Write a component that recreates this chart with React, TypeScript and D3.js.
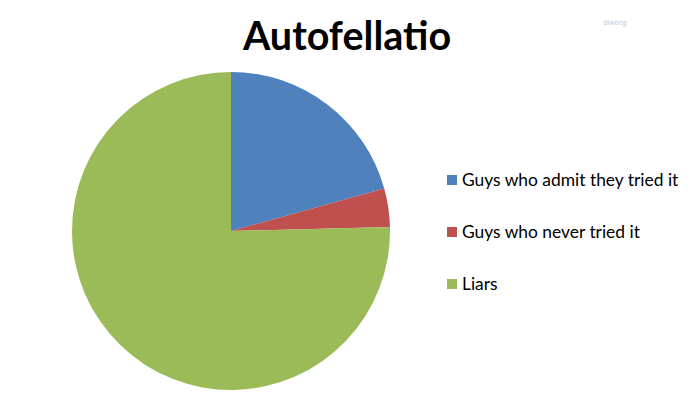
import { useEffect, useRef } from "react";
import * as d3 from "d3";

const categories = [
  "Guys who admit they tried it",
  "Guys who never tried it",
  "Liars",
];
const values = [20.7, 3.9, 75.4];
const colors = ["#4F81BD", "#C0504D", "#9BBB59"];

export default function App() {
  const width = 700;
  const height = 402;
  const svgRef = useRef<SVGSVGElement>(null);

  useEffect(() => {
    document.body.style.margin = "0";
    const svg = d3.select(svgRef.current);
    svg.selectAll("*").remove();

    svg.append("rect").attr("width", width).attr("height", height).attr("fill", "#fff");

    // title
    svg
      .append("text")
      .attr("x", 347)
      .attr("y", 50)
      .attr("text-anchor", "middle")
      .style("font-family", "Lato, 'Open Sans', sans-serif")
      .style("font-weight", "bold")
      .style("font-size", "39.5px")
      .attr("fill", "#000")
      .text("Autofellatio");

    // watermark
    svg
      .append("text")
      .attr("x", 615)
      .attr("y", 25)
      .attr("text-anchor", "middle")
      .style("font-family", "'Open Sans', sans-serif")
      .style("font-size", "7px")
      .attr("fill", "#c8c8c8")
      .text("diwoog");

    // pie
    const data = categories.map((c, i) => ({ name: c, value: values[i], color: colors[i] }));
    const pie = d3
      .pie<{ name: string; value: number; color: string }>()
      .sort(null)
      .value((d) => d.value);
    const arc = d3
      .arc<d3.PieArcDatum<{ name: string; value: number; color: string }>>()
      .innerRadius(0)
      .outerRadius(159);

    svg
      .append("g")
      .attr("transform", "translate(231, 231)")
      .selectAll("path")
      .data(pie(data))
      .join("path")
      .attr("d", arc)
      .attr("fill", (d) => d.data.color);

    // legend
    const legendY = d3.scalePoint<string>().domain(categories).range([180, 284]);
    const lg = svg
      .append("g")
      .selectAll("g")
      .data(data)
      .join("g")
      .attr("transform", (d) => `translate(447, ${legendY(d.name)})`);
    lg.append("rect")
      .attr("x", 0)
      .attr("y", -5)
      .attr("width", 10)
      .attr("height", 10)
      .attr("fill", (d) => d.color);
    lg.append("text")
      .attr("x", 15)
      .attr("y", 6)
      .style("font-family", "Lato, 'Open Sans', sans-serif")
      .style("font-size", "17.4px")
      .attr("fill", "#000")
      .text((d) => d.name);
  }, []);

  return (
    <svg
      ref={svgRef}
      width={width}
      height={height}
      style={{ display: "block", position: "absolute", left: 0, top: 0 }}
    />
  );
}
